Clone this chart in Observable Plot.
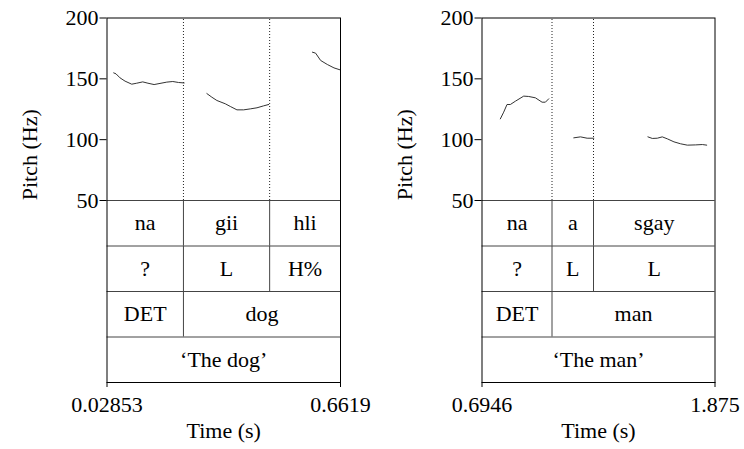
<!DOCTYPE html>
<html>
<head>
<meta charset="utf-8">
<script src="https://cdn.jsdelivr.net/npm/d3@7"></script>
<script src="https://cdn.jsdelivr.net/npm/@observablehq/plot@0.6"></script>
<style>
  html, body { margin: 0; padding: 0; background: white; }
  #wrap { display: flex; width: 744px; height: 449px; }
  #wrap svg { overflow: visible; display: block; }
</style>
</head>
<body>
<div id="wrap"></div>
<script>
// ---- Panel 1: "The dog" ----
const dogT = [0.0467, 0.0530, 0.0639, 0.0775, 0.0956, 0.1091, 0.1255, 0.1396, 0.1563, 0.1907, 0.2070, 0.2224, 0.2378,
              0.2994, 0.3130, 0.3266, 0.3493, 0.3629, 0.3810, 0.3991, 0.4172, 0.4354, 0.4535, 0.4671,
              0.5858, 0.5944, 0.6080, 0.6261, 0.6442, 0.6605];
const dogHz = [154.9, 154.1, 150.8, 148.1, 145.6, 146.4, 147.5, 146.4, 145.3, 147.3, 147.8, 147.0, 146.6,
               137.9, 134.9, 132.2, 129.5, 127.3, 124.5, 124.5, 125.3, 126.2, 127.8, 128.9,
               171.9, 171.1, 165.1, 161.8, 159.0, 157.4];
const dogSeg = [1,1,1,1,1,1,1,1,1,1,1,1,1, 2,2,2,2,2,2,2,2,2,2,2, 3,3,3,3,3,3];
const dogSyllBounds = [0.02853, 0.2359, 0.4697, 0.6619];
const dogSyll = ["na", "gii", "hli"];
const dogTone = ["?", "L", "H%"];
const dogGlossBounds = [0.02853, 0.2359, 0.6619];
const dogGloss = ["DET", "dog"];
const dogTrans = ["\u2018The dog\u2019"];
const dogTickLabels = ["0.02853", "0.6619"];

// ---- Panel 2: "The man" ----
const manT = [0.7875, 0.8044, 0.8213, 0.8382, 0.8636, 0.9059, 0.9312, 0.9651, 0.9989, 1.0158, 1.0327,
              1.1596, 1.1935, 1.2273, 1.2611,
              1.5352, 1.5572, 1.5826, 1.6079, 1.6333, 1.6671, 1.7009, 1.7348, 1.7771, 1.8109, 1.8329];
const manHz = [117.1, 122.6, 128.9, 128.9, 131.6, 135.8, 135.5, 134.4, 130.8, 130.8, 133.6,
               101.5, 102.3, 101.2, 101.2,
               102.3, 101.0, 101.2, 102.3, 100.7, 98.2, 96.6, 95.5, 95.7, 96.0, 95.5];
const manSeg = [1,1,1,1,1,1,1,1,1,1,1, 2,2,2,2, 3,3,3,3,3,3,3,3,3,3,3];
const manSyllBounds = [0.6946, 1.0493, 1.2595, 1.875];
const manSyll = ["na", "a", "sgay"];
const manTone = ["?", "L", "L"];
const manGlossBounds = [0.6946, 1.0493, 1.875];
const manGloss = ["DET", "man"];
const manTrans = ["\u2018The man\u2019"];
const manTickLabels = ["0.6946", "1.875"];

const yTicks = [50, 100, 150, 200];
const xTitle = "Time (s)";
const yTitle = "Pitch (Hz)";

// ---- layout ----
const FONT = "Liberation Serif";
const FS = 22;
const pitchPx = 182.5, rowPx = 45.5;
const rowHz = rowPx * 150 / pitchPx;
const yMin = 50 - 4 * rowHz;

function panel(p, marginLeft, marginRight) {
  const t0 = p.syllBounds[0], t1 = p.syllBounds[p.syllBounds.length - 1];
  const tiers = [
    {bounds: p.syllBounds, labels: p.syll},
    {bounds: p.syllBounds, labels: p.tone},
    {bounds: p.glossBounds, labels: p.gloss},
    {bounds: [t0, t1], labels: p.trans}
  ];
  const cells = [], walls = [];
  tiers.forEach((tier, r) => {
    const top = 50 - r * rowHz, bottom = 50 - (r + 1) * rowHz;
    tier.labels.forEach((lab, i) => cells.push({x: (tier.bounds[i] + tier.bounds[i + 1]) / 2, y: (top + bottom) / 2, text: lab}));
    tier.bounds.slice(1, -1).forEach(b => walls.push({x: b, y1: top, y2: bottom}));
  });
  const track = p.t.map((t, i) => ({t, hz: p.hz[i], seg: p.seg[i]}));
  const txt = {fontFamily: FONT, fontSize: FS, fill: "black"};
  return Plot.plot({
    width: 372, height: 449,
    marginLeft, marginRight, marginTop: 17.5, marginBottom: 67,
    style: {fontFamily: FONT, fontSize: FS + "px"},
    x: {domain: [t0, t1]},
    y: {domain: [yMin, 200]},
    marks: [
      Plot.ruleX(p.syllBounds.slice(1, -1), {y1: 50, y2: 200, stroke: "#222", strokeDasharray: "1,2"}),
      Plot.ruleY([0, 1, 2, 3].map(r => 50 - r * rowHz), {stroke: "#444"}),
      Plot.ruleX(walls, {x: "x", y1: "y1", y2: "y2", stroke: "#444"}),
      Plot.text(cells, {x: "x", y: "y", text: "text", ...txt}),
      Plot.line(track, {x: "t", y: "hz", z: "seg", stroke: "#333", strokeWidth: 1}),
      Plot.frame({stroke: "black"}),
      Plot.axisY({ticks: yTicks, tickSize: 7, tickPadding: 1.5, label: null, stroke: "black", ...txt}),
      Plot.axisX({ticks: [t0, t1], tickFormat: d => (d === t0 ? p.tickLabels[0] : p.tickLabels[1]), tickSize: 5, tickPadding: 9, label: null, stroke: "black", ...txt}),
      Plot.text([xTitle], {text: d => d, frameAnchor: "bottom", dy: 55, lineAnchor: "bottom", ...txt}),
      Plot.text([yTitle], {text: d => d, frameAnchor: "left", dx: -77, rotate: -90, ...txt})
    ]
  });
}

const wrap = document.getElementById("wrap");
wrap.append(panel({t: dogT, hz: dogHz, seg: dogSeg, syllBounds: dogSyllBounds, syll: dogSyll, tone: dogTone,
                   glossBounds: dogGlossBounds, gloss: dogGloss, trans: dogTrans, tickLabels: dogTickLabels}, 106.5, 32));
wrap.append(panel({t: manT, hz: manHz, seg: manSeg, syllBounds: manSyllBounds, syll: manSyll, tone: manTone,
                   glossBounds: manGlossBounds, gloss: manGloss, trans: manTrans, tickLabels: manTickLabels}, 109.5, 29.5));
</script>
</body>
</html>
